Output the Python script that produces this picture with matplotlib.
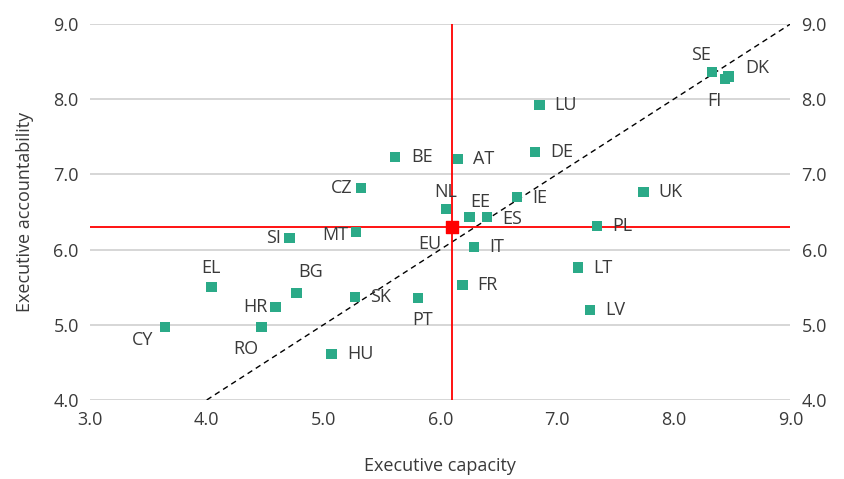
import matplotlib.pyplot as plt

# ====================================
# DATA
# ====================================

countries = ['CY', 'RO', 'HR', 'EL', 'BG', 'SI', 'MT', 'CZ', 'BE', 'SK', 'HU', 'PT',
             'NL', 'AT', 'EE', 'ES', 'IT', 'FR', 'IE', 'DE', 'LU', 'LT', 'LV', 'PL',
             'UK', 'SE', 'FI', 'DK']
capacity = [3.64, 4.47, 4.59, 4.04, 4.77, 4.71, 5.28, 5.32, 5.61, 5.27, 5.07, 5.81,
            6.05, 6.15, 6.25, 6.40, 6.29, 6.19, 6.66, 6.81, 6.85, 7.18, 7.28, 7.34,
            7.74, 8.33, 8.44, 8.47]
accountability = [4.97, 4.97, 5.24, 5.50, 5.42, 6.15, 6.23, 6.82, 7.23, 5.37, 4.61, 5.36,
                  6.54, 7.20, 6.43, 6.43, 6.03, 5.53, 6.70, 7.30, 7.92, 5.76, 5.20, 6.31,
                  6.77, 8.36, 8.27, 8.30]

eu_capacity = 6.10
eu_accountability = 6.30

# label offsets in points (dx, dy, horizontal alignment)
label_pos = {
    'CY': (-8, -9, 'right'), 'RO': (-2, -16, 'right'), 'HR': (-6, 0, 'right'),
    'EL': (0, 14, 'center'), 'BG': (10, 15, 'center'), 'SI': (-6, 0, 'right'),
    'MT': (-6, -2, 'right'), 'CZ': (-6, 0, 'right'), 'BE': (12, 0, 'left'),
    'SK': (11, 0, 'left'), 'HU': (11, 0, 'left'), 'PT': (3, -16, 'center'),
    'NL': (0, 12, 'center'), 'AT': (11, 0, 'left'), 'EE': (8, 11, 'center'),
    'ES': (11, -1, 'left'), 'IT': (11, 0, 'left'), 'FR': (11, 0, 'left'),
    'IE': (11, -1, 'left'), 'DE': (11, 0, 'left'), 'LU': (11, 0, 'left'),
    'LT': (11, 0, 'left'), 'LV': (11, 0, 'left'), 'PL': (11, 0, 'left'),
    'UK': (11, 0, 'left'), 'SE': (-8, 12, 'center'), 'FI': (-8, -16, 'center'),
    'DK': (12, 6, 'left'),
}

# ====================================
# PLOT
# ====================================

plt.rcParams['font.family'] = ['Open Sans', 'DejaVu Sans']
text_color = '#3A3A3A'
green = '#2BAA88'
fs = 13

fig = plt.figure(figsize=(8.44, 4.79), dpi=100)
ax = fig.add_axes([0.1066, 0.165, 0.83, 0.785])

ax.set_xlim(3.0, 9.0)
ax.set_ylim(4.0, 9.0)
ax.set_xticks([3, 4, 5, 6, 7, 8, 9])
ax.set_yticks([4, 5, 6, 7, 8, 9])
ax.set_xticklabels([f'{v:.1f}' for v in ax.get_xticks()])
ax.set_yticklabels([f'{v:.1f}' for v in ax.get_yticks()])

ax.grid(axis='y', color='#D0D0D0', linewidth=1.2)
ax.set_axisbelow(True)
for s in ax.spines.values():
    s.set_visible(False)
ax.tick_params(length=0, labelsize=fs, colors=text_color, pad=8)

# diagonal
ax.plot([4.0, 9.0], [4.0, 9.0], color='black', linestyle=(0, (4, 3)), linewidth=1, zorder=2)

# EU average lines
ax.axvline(eu_capacity, color='#FF0000', linewidth=1.3, zorder=2)
ax.axhline(eu_accountability, color='#FF0000', linewidth=1.3, zorder=2)

ax.scatter(capacity, accountability, marker='s', s=55, color=green, zorder=3,
           edgecolors='none')
ax.scatter([eu_capacity], [eu_accountability], marker='s', s=65, color='#FF0000', zorder=4)

for name, x, y in zip(countries, capacity, accountability):
    dx, dy, ha = label_pos[name]
    ax.annotate(name, (x, y), xytext=(dx, dy), textcoords='offset points',
                ha=ha, va='center', fontsize=fs, color=text_color, zorder=5)
ax.annotate('EU', (eu_capacity, eu_accountability), xytext=(-16, -12),
            textcoords='offset points', ha='center', va='center',
            fontsize=fs, color=text_color, zorder=5)

ax.set_xlabel('Executive capacity', fontsize=fs, color=text_color, labelpad=20)
ax.set_ylabel('Executive accountability', fontsize=fs, color=text_color, labelpad=14)

# right-hand axis labels
ax2 = ax.twinx()
ax2.set_ylim(ax.get_ylim())
ax2.set_yticks(ax.get_yticks())
ax2.set_yticklabels([f'{v:.1f}' for v in ax.get_yticks()])
ax2.tick_params(length=0, labelsize=fs, colors=text_color, pad=8)
for s in ax2.spines.values():
    s.set_visible(False)

plt.savefig('out.png', dpi=100)
plt.close()
